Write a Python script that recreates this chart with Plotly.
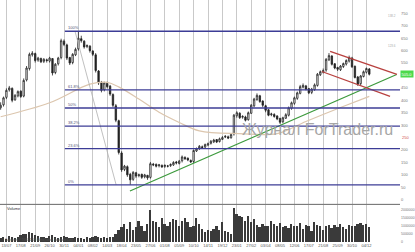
import plotly.graph_objects as go

W, H = 415, 252

# ---------------- data ----------------
close = [380,410,440,450,400,420,435,415,480,530,
         585,590,560,570,555,565,560,570,510,545,
         570,640,625,570,550,585,605,650,640,615,
         620,600,585,520,470,440,470,455,425,380,
         320,190,120,135,100,80,110,95,100,90,
         100,88,145,140,135,140,132,138,135,142,
         150,148,155,172,165,160,152,198,205,215,
         210,222,225,235,240,232,245,250,255,248,
         262,340,350,330,335,320,350,380,405,420,
         395,380,360,340,345,335,325,312,330,342,
         370,390,410,430,455,460,445,430,445,462,
         505,515,520,565,580,545,530,525,538,548,
         560,572,535,492,465,498,515,528,505]
open_ = [370,382,412,442,448,402,418,437,417,482,
         528,583,588,562,568,557,563,558,568,512,
         547,572,638,623,572,552,583,607,648,638,
         617,618,598,583,518,472,442,468,457,423,
         378,318,188,122,133,102,82,108,97,102,
         92,98,90,143,142,137,138,134,136,137,
         140,152,146,157,170,167,158,154,196,207,
         213,212,220,227,233,242,234,243,252,253,
         250,265,338,348,332,333,322,348,378,403,
         418,397,378,362,342,343,337,327,314,328,
         340,368,388,408,428,453,458,447,432,443,
         460,503,513,522,563,578,547,532,523,536,
         546,558,570,537,494,467,496,513,526]
high = [392,415,448,458,452,425,440,440,488,538,
        592,598,592,575,572,570,568,575,570,550,
        575,648,645,628,575,590,612,678,660,642,
        625,622,602,590,522,478,475,475,462,428,
        385,322,195,140,138,108,115,112,105,105,
        104,100,152,148,146,144,142,142,140,146,
        155,156,160,178,175,170,162,202,210,220,
        218,226,230,240,245,244,250,256,260,258,
        268,345,356,352,340,338,355,385,410,428,
        422,400,382,365,350,348,340,330,334,348,
        375,395,415,435,462,468,462,450,450,468,
        510,520,528,570,590,582,550,535,542,552,
        565,580,575,540,498,502,520,532,530]
low = [362,375,405,435,392,398,412,410,412,476,
       520,576,552,555,550,550,552,552,500,505,
       540,565,618,562,542,545,578,600,632,608,
       610,592,578,512,462,432,436,448,418,372,
       312,182,112,115,92,60,76,88,90,84,
       86,80,85,135,130,130,128,128,130,132,
       136,142,142,150,160,155,148,148,192,200,
       205,206,215,222,228,228,230,240,248,244,
       245,258,330,325,326,315,318,345,372,398,
       390,372,352,336,336,330,320,305,308,325,
       335,362,382,402,424,448,440,425,425,438,
       455,498,508,515,558,540,525,518,518,530,
       540,552,530,488,458,460,492,508,500]
volume_k = [250,300,200,350,280,220,300,400,450,500,
            600,550,400,350,300,280,260,350,420,300,
            250,300,380,280,250,220,300,260,240,200,
            280,250,300,350,280,260,300,250,280,320,
            450,700,900,1100,800,1200,700,900,1300,1000,
            650,1100,2000,1300,1200,900,1500,1100,950,1200,
            1400,1350,1000,1300,1500,1200,900,1000,1450,1100,
            800,600,700,650,800,1000,750,1200,650,600,
            500,2100,1700,1600,1550,1300,1600,1200,1400,1050,
            900,1100,1000,950,1300,1100,1000,1150,900,1000,
            850,1100,1000,950,1150,800,1050,1000,650,1250,
            1050,950,750,1000,1050,850,1050,900,1100,900,
            800,1050,1000,950,1100,1150,1050,1100,900]

# moving average (index, value)
ma_idx = [0, 17, 31, 37, 41, 48, 55, 62, 69, 83, 96, 106, 118, 128]
ma_val = [334, 390, 465, 472, 454, 405, 352, 311, 277, 266, 266, 315, 371, 416]

# x tick labels (one per vertical grid line)
tick_idx = list(range(2, 130, 5))
tick_lbl = ["13/07","17/08","21/09","26/10","30/11","04/01","08/02","14/03",
            "18/04","23/05","27/06","01/08","05/09","10/10","14/11","19/12",
            "23/01","27/02","03/04","08/05","12/06","17/07","21/08","25/09",
            "30/10","04/12"]

price_ticks = [0, 50, 100, 150, 200, 300, 350, 400, 450, 550, 600, 650, 700, 750, 800]
vol_ticks = [0, 500000, 1000000, 1500000, 2000000]
vol_tick_lbl = ["0", "500000", "1000000", "1500000", "2000000"]

fib_low, fib_high = 60, 678
fib_ratios = [0.0, 0.236, 0.382, 0.5, 0.618, 1.0]
fib_names = ["0%", "23.6%", "38.2%", "50%", "61.8%", "100%"]
fib_start = 22.3

# small side labels near the right edge (price, text)
side_labels = [(740, "138.2"), (618, "123.6")]
red_mark = (250, "250")

# trend lines (index, price)
green_line = ([44.9, 137.5], [35, 504])
red_upper = ([114.4, 137.6], [597, 504])
red_lower = ([111.5, 135.2], [516, 416])
fib_diag = ([25.8, 40.1], [679, 60])

last_price = close[-1]

# ---------------- figure ----------------
x = list(range(len(close)))
XR = [-0.222, 138.66]
xdom = [0, 400 / W]

fig = go.Figure()

fig.add_trace(go.Scatter(x=ma_idx, y=ma_val, mode="lines",
                         line=dict(color="#dcc6ae", width=1.2, shape="spline"),
                         hoverinfo="skip", xaxis="x", yaxis="y"))

fig.add_trace(go.Candlestick(
    x=x, open=open_, high=high, low=low, close=close,
    increasing=dict(line=dict(color="#222222", width=0.8), fillcolor="#ffffff"),
    decreasing=dict(line=dict(color="#222222", width=0.8), fillcolor="#222222"),
    whiskerwidth=0, xaxis="x", yaxis="y"))

for (lx, ly), col in [(green_line, "#3d9a3d"), (red_upper, "#b8413f"),
                      (red_lower, "#b8413f")]:
    fig.add_trace(go.Scatter(x=lx, y=ly, mode="lines",
                             line=dict(color=col, width=1.3),
                             hoverinfo="skip", xaxis="x", yaxis="y"))
fig.add_trace(go.Scatter(x=fib_diag[0], y=fib_diag[1], mode="lines",
                         line=dict(color="#b0b0b0", width=0.8),
                         hoverinfo="skip", xaxis="x", yaxis="y"))

fig.add_trace(go.Bar(x=x, y=[v * 1000 for v in volume_k],
                     marker=dict(color="#3a3a3a", line=dict(width=0)),
                     width=0.62, xaxis="x2", yaxis="y2"))

shapes = []
annotations = []
for r, name in zip(fib_ratios, fib_names):
    lvl = fib_low + r * (fib_high - fib_low)
    shapes.append(dict(type="line", xref="x", yref="y", x0=fib_start, x1=XR[1],
                       y0=lvl, y1=lvl, line=dict(color="#3c3c96", width=1.3),
                       layer="above"))
    annotations.append(dict(x=fib_start + 0.3, y=lvl, xref="x", yref="y",
                            text=name, showarrow=False, xanchor="left",
                            yanchor="bottom", yshift=-1,
                            font=dict(size=4, color="#555577")))

# panel separator
shapes.append(dict(type="line", xref="paper", yref="paper", x0=0, x1=xdom[1],
                   y0=46 / H, y1=46 / H, line=dict(color="#666666", width=1)))

# last price marker
annotations.append(dict(x=xdom[1], y=last_price, xref="paper", yref="y",
                        text=str(last_price) + ".0", showarrow=False,
                        xanchor="left", bgcolor="#4cd94c",
                        font=dict(size=4, color="#ffffff"), borderpad=0.5))

for p, t in side_labels:
    annotations.append(dict(x=398 / W, y=p, xref="paper", yref="y", text=t,
                            showarrow=False, xanchor="right",
                            font=dict(size=3, color="#aaaaaa")))
annotations.append(dict(x=400 / W, y=red_mark[0], xref="paper", yref="y",
                        text=red_mark[1], showarrow=False,
                        xanchor="left", font=dict(size=4, color="#d05050")))

annotations.append(dict(x=317 / W, y=1 - 131 / H, xref="paper", yref="paper",
                        text="Журнал ForTrader.ru", showarrow=False,
                        xanchor="center", yanchor="middle",
                        font=dict(size=16, color="#a6a6a6",
                                  family="Liberation Sans, Arial, sans-serif")))

annotations.append(dict(x=5 / W, y=1 - 210 / H, xref="paper", yref="paper",
                        text="Volume", showarrow=False, xanchor="left",
                        yanchor="middle", font=dict(size=4, color="#333333")))
annotations.append(dict(x=3 / W, y=1 - 242 / H, xref="paper", yref="paper",
                        text="Copyright © 2000-2009 MetaQuotes Software Corp.",
                        showarrow=False, xanchor="left", yanchor="middle",
                        font=dict(size=3, color="#555555")))

fig.update_layout(
    width=W, height=H, margin=dict(l=0, r=0, t=0, b=0),
    paper_bgcolor="white", plot_bgcolor="white", showlegend=False,
    font=dict(family="Liberation Sans, Arial, sans-serif"),
    bargap=0, shapes=shapes, annotations=annotations,
    xaxis=dict(domain=xdom, range=XR, anchor="y", tickvals=tick_idx,
               showticklabels=False, showgrid=True, gridcolor="#c9c9c9",
               gridwidth=1, zeroline=False, rangeslider=dict(visible=False),
               showline=False, ticks=""),
    yaxis=dict(domain=[46 / H, 1], range=[-18.75, 803.75], side="right",
               anchor="x", tickvals=price_ticks, showgrid=False,
               zeroline=False, tickfont=dict(size=4, color="#777777"),
               ticks="", ticklen=0),
    xaxis2=dict(domain=xdom, range=XR, anchor="y2", tickvals=tick_idx,
                ticktext=tick_lbl, showgrid=True, gridcolor="#c9c9c9",
                zeroline=False, tickfont=dict(size=4, color="#555555"),
                ticks="", ticklen=0, showline=False),
    yaxis2=dict(domain=[8 / H, 45 / H], range=[0, 2290000], side="right",
                anchor="x2", tickvals=vol_ticks, ticktext=vol_tick_lbl,
                showgrid=False, zeroline=False,
                tickfont=dict(size=3.5, color="#777777"),
                ticks="", ticklen=0),
)

fig.write_html("out.html")
